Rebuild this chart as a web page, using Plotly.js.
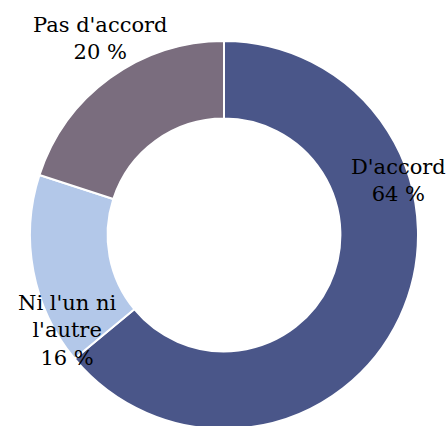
<!DOCTYPE html>
<html><head><meta charset="utf-8">
<script src="https://cdn.plot.ly/plotly-3.0.1.min.js"></script>
<style>html,body{margin:0;padding:0;overflow:hidden;background:#fff}</style>
</head><body><div id="chart"></div>
<script>
const categories = ["D'accord", "Ni l'un ni<br>l'autre", "Pas d'accord"];
const values = [64, 16, 20];
const colors = ["#4a5689", "#b3c8e9", "#7a6d7e"];

const W = 447, H = 432;
// label centres in pixels (layout)
const labelPos = [[398, 180], [67, 330], [100, 38]];
const px = x => x / W, py = y => 1 - y / H;

const annotations = categories.map((c, i) => ({
  text: c + '<br>' + values[i] + ' %',
  x: px(labelPos[i][0]), y: py(labelPos[i][1]),
  xref: 'paper', yref: 'paper', xanchor: 'center', yanchor: 'middle',
  showarrow: false, align: 'center',
  font: {family: 'DejaVu Serif', size: 21, color: '#000'}
}));

Plotly.newPlot('chart', [{
  type: 'pie', labels: categories, values: values, hole: 0.6,
  sort: false, direction: 'clockwise', rotation: 0,
  marker: {colors: colors, line: {color: '#fff', width: 2}},
  textinfo: 'none', hoverinfo: 'none',
  domain: {x: [px(30), px(418)], y: [py(429), py(41)]}
}], {
  width: W, height: H, margin: {l: 0, r: 0, t: 0, b: 0},
  showlegend: false, paper_bgcolor: '#fff',
  annotations: annotations
}, {displayModeBar: false, staticPlot: true});
</script></body></html>
